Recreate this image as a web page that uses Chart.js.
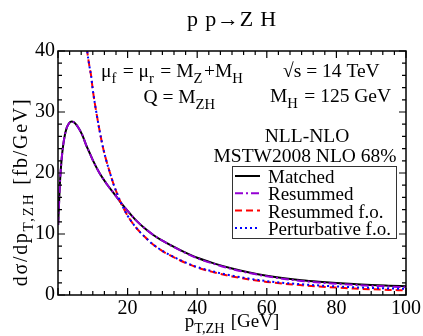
<!DOCTYPE html>
<html>
<head>
<meta charset="utf-8">
<script src="https://cdn.jsdelivr.net/npm/chart.js@4.4.0/dist/chart.umd.min.js"></script>
<style>
  html, body { margin: 0; padding: 0; background: #fff; }
</style>
</head>
<body>
<canvas id="zh-chart" width="423" height="336"></canvas>
<script>
// values
const ptMatched = [0.05, 0.3, 0.6, 1, 1.5, 2, 2.5, 3, 3.5, 4, 4.5, 5, 6, 7, 8, 9, 10, 12, 14, 16, 18, 20, 22.5, 25, 27.5, 30, 35, 40, 45, 50, 55, 60, 65, 70, 75, 80, 85, 90, 95, 100];
const sigmaMatched = [11.5, 15, 18.8, 22.0, 24.6, 26.3, 27.4, 28.0, 28.35, 28.45, 28.35, 28.1, 27.3, 26.2, 24.7, 23.4, 22.1, 19.9, 18.2, 16.7, 15.2, 13.8, 12.2, 10.9, 9.8, 8.9, 7.4, 6.1, 5.15, 4.35, 3.7, 3.17, 2.75, 2.42, 2.17, 1.96, 1.8, 1.65, 1.53, 1.42];
const sigmaResummed = [11.5, 15, 18.8, 22.0, 24.6, 26.3, 27.4, 28.0, 28.35, 28.45, 28.35, 28.1, 27.3, 26.2, 24.7, 23.4, 22.1, 19.9, 18.2, 16.7, 15.2, 13.8, 12.2, 10.9, 9.8, 8.9, 7.35, 6.03, 5.07, 4.26, 3.6, 3.06, 2.63, 2.3, 2.04, 1.83, 1.66, 1.51, 1.39, 1.28];

const ptFixedOrder = [7.6, 8, 8.5, 9, 9.5, 10, 11, 12, 13, 14, 15, 16, 17, 18, 20, 22.5, 25, 27.5, 30, 35, 40, 45, 50, 55, 60, 65, 70, 75, 80, 85, 90, 95, 100];
const sigmaResummedFO = [44, 42, 39.5, 37.6, 36.0, 33.6, 30.0, 26.8, 24.0, 21.8, 19.9, 18.1, 16.6, 15.2, 13.0, 11.0, 9.5, 8.2, 7.2, 5.7, 4.5, 3.7, 3.05, 2.55, 2.15, 1.84, 1.6, 1.39, 1.21, 1.06, 0.94, 0.84, 0.75];
const sigmaPerturbFO = [44, 42, 39.5, 37.6, 36.0, 33.6, 30.0, 26.8, 24.0, 21.8, 19.9, 18.1, 16.6, 15.2, 13.0, 11.0, 9.5, 8.2, 7.25, 5.75, 4.58, 3.8, 3.17, 2.68, 2.28, 1.98, 1.76, 1.56, 1.4, 1.27, 1.16, 1.07, 1.0];

const seriesNames = ['Matched', 'Resummed', 'Resummed f.o.', 'Perturbative f.o.'];
const xRange = [0, 100];
const yRange = [0, 40];

const FONT = "'Liberation Serif', 'Times New Roman', serif";

function toPoints(xs, ys) {
  return xs.map((x, i) => ({ x: x, y: ys[i] }));
}

// text with subscripts: parts = [[text, isSub], ...]
function richWidth(ctx, parts, size) {
  let w = 0;
  parts.forEach(([t, sub]) => {
    ctx.font = (sub ? size * 0.75 : size) + 'px ' + FONT;
    w += ctx.measureText(t).width + (sub ? 1.5 : 0);
  });
  return w;
}
function drawRich(ctx, parts, x, y, size, align) {
  const w = richWidth(ctx, parts, size);
  let cx = align === 'center' ? x - w / 2 : (align === 'right' ? x - w : x);
  ctx.textAlign = 'left';
  ctx.textBaseline = 'alphabetic';
  parts.forEach(([t, sub]) => {
    ctx.font = (sub ? size * 0.75 : size) + 'px ' + FONT;
    ctx.fillText(t, cx, sub ? y + size * 0.3 : y);
    cx += ctx.measureText(t).width + (sub ? 1.5 : 0);
  });
}

const decorations = {
  id: 'decorations',
  afterDraw(chart) {
    const ctx = chart.ctx;
    const area = chart.chartArea;
    const xs = chart.scales.x, ys = chart.scales.y;
    ctx.save();
    ctx.fillStyle = '#000';
    ctx.strokeStyle = '#000';

    // inward ticks on all four sides
    ctx.lineWidth = 1.2;
    ctx.beginPath();
    for (let i = 0; i <= 30; i++) {
      const px = xs.getPixelForValue(i * 20 / 6);
      const len = i % 6 === 0 ? 7 : 4;
      ctx.moveTo(px, area.bottom); ctx.lineTo(px, area.bottom - len);
      ctx.moveTo(px, area.top); ctx.lineTo(px, area.top + len);
    }
    for (let i = 0; i <= 20; i++) {
      const py = ys.getPixelForValue(i * 2);
      const len = i % 5 === 0 ? 7 : 4;
      ctx.moveTo(area.left, py); ctx.lineTo(area.left + len, py);
      ctx.moveTo(area.right, py); ctx.lineTo(area.right - len, py);
    }
    ctx.stroke();

    // frame
    ctx.lineWidth = 1.5;
    ctx.strokeRect(area.left, area.top, area.right - area.left, area.bottom - area.top);

    // title
    const midX = (area.left + area.right) / 2;
    ctx.save();
    ctx.letterSpacing = '0.8px';
    drawRich(ctx, [['p p\u2192Z H', 0]], midX, 26, 22, 'center');
    ctx.restore();

    // axis titles
    drawRich(ctx, [['p', 0], ['T,ZH', 1], [' [GeV]', 0]], midX, 327, 19, 'center');
    ctx.save();
    ctx.translate(20, 192);
    ctx.rotate(-Math.PI / 2);
    ctx.letterSpacing = '1.7px';
    drawRich(ctx, [['d\u03c3/dp', 0], ['T,ZH', 1], [' [fb/GeV]', 0]], 0, 7, 20, 'center');
    ctx.restore();

    // annotations
    drawRich(ctx, [['\u03bc', 0], ['f', 1], [' = \u03bc', 0], ['r', 1], [' = M', 0], ['Z', 1], ['+M', 0], ['H', 1]], 101, 77, 19.5, 'left');
    drawRich(ctx, [['Q = M', 0], ['ZH', 1]], 180, 103, 19.5, 'center');
    drawRich(ctx, [['\u221as = 14 TeV', 0]], 283, 77, 19.5, 'left');
    drawRich(ctx, [['M', 0], ['H', 1], [' = 125 GeV', 0]], 270, 102, 19.5, 'left');
    drawRich(ctx, [['NLL-NLO', 0]], 307, 142, 19.5, 'center');
    drawRich(ctx, [['MSTW2008 NLO 68%', 0]], 305, 162, 19.5, 'center');

    // legend box
    const bx = 232, by = 166, bw = 164, bh = 72;
    ctx.fillStyle = '#fff';
    ctx.fillRect(bx, by, bw, bh);
    ctx.strokeStyle = '#333';
    ctx.lineWidth = 1;
    ctx.strokeRect(bx + 0.5, by + 0.5, bw, bh);
    ctx.fillStyle = '#000';
    chart.data.datasets.forEach((ds, i) => {
      const cy = by + 10 + i * 17.3;
      ctx.save();
      ctx.strokeStyle = ds.borderColor;
      ctx.lineWidth = ds.borderWidth;
      ctx.setLineDash(ds.borderDash || []);
      ctx.beginPath();
      ctx.moveTo(bx + 3, cy);
      ctx.lineTo(bx + 28, cy);
      ctx.stroke();
      ctx.restore();
      drawRich(ctx, [[ds.label, 0]], bx + 36, cy + 7, 19, 'left');
    });
    ctx.restore();
  }
};

const ctx = document.getElementById('zh-chart').getContext('2d');
const chart = new Chart(ctx, {
  type: 'line',
  data: {
    datasets: [
      {
        label: seriesNames[0],
        data: toPoints(ptMatched, sigmaMatched),
        borderColor: '#000000',
        borderWidth: 2,
        order: 3
      },
      {
        label: seriesNames[1],
        data: toPoints(ptMatched, sigmaResummed),
        borderColor: '#9400d3',
        borderWidth: 2,
        borderDash: [8, 3, 2, 3],
        order: 2
      },
      {
        label: seriesNames[2],
        data: toPoints(ptFixedOrder, sigmaResummedFO),
        borderColor: '#ff0000',
        borderWidth: 2,
        borderDash: [7, 4],
        order: 1
      },
      {
        label: seriesNames[3],
        data: toPoints(ptFixedOrder, sigmaPerturbFO),
        borderColor: '#0000ff',
        borderWidth: 2,
        borderDash: [2, 3],
        order: 0
      }
    ]
  },
  options: {
    responsive: false,
    animation: false,
    layout: { padding: { top: 51, right: 17 } },
    elements: {
      point: { radius: 0 },
      line: { cubicInterpolationMode: 'monotone', fill: false }
    },
    plugins: {
      legend: { display: false },
      tooltip: { enabled: false },
      title: { display: false }
    },
    scales: {
      x: {
        type: 'linear',
        min: xRange[0],
        max: xRange[1],
        border: { display: false },
        grid: { display: false, drawTicks: false },
        ticks: {
          stepSize: 20,
          padding: 2,
          color: '#000',
          maxRotation: 0,
          autoSkip: false,
          font: { family: FONT, size: 20 },
          callback: v => (v === 0 ? '' : v)
        },
        afterFit: s => { s.height = 41; }
      },
      y: {
        min: yRange[0],
        max: yRange[1],
        border: { display: false },
        grid: { display: false, drawTicks: false },
        ticks: {
          stepSize: 10,
          padding: 3,
          color: '#000',
          font: { family: FONT, size: 20 }
        },
        afterFit: s => { s.width = 58; }
      }
    }
  },
  plugins: [decorations]
});
</script>
</body>
</html>
